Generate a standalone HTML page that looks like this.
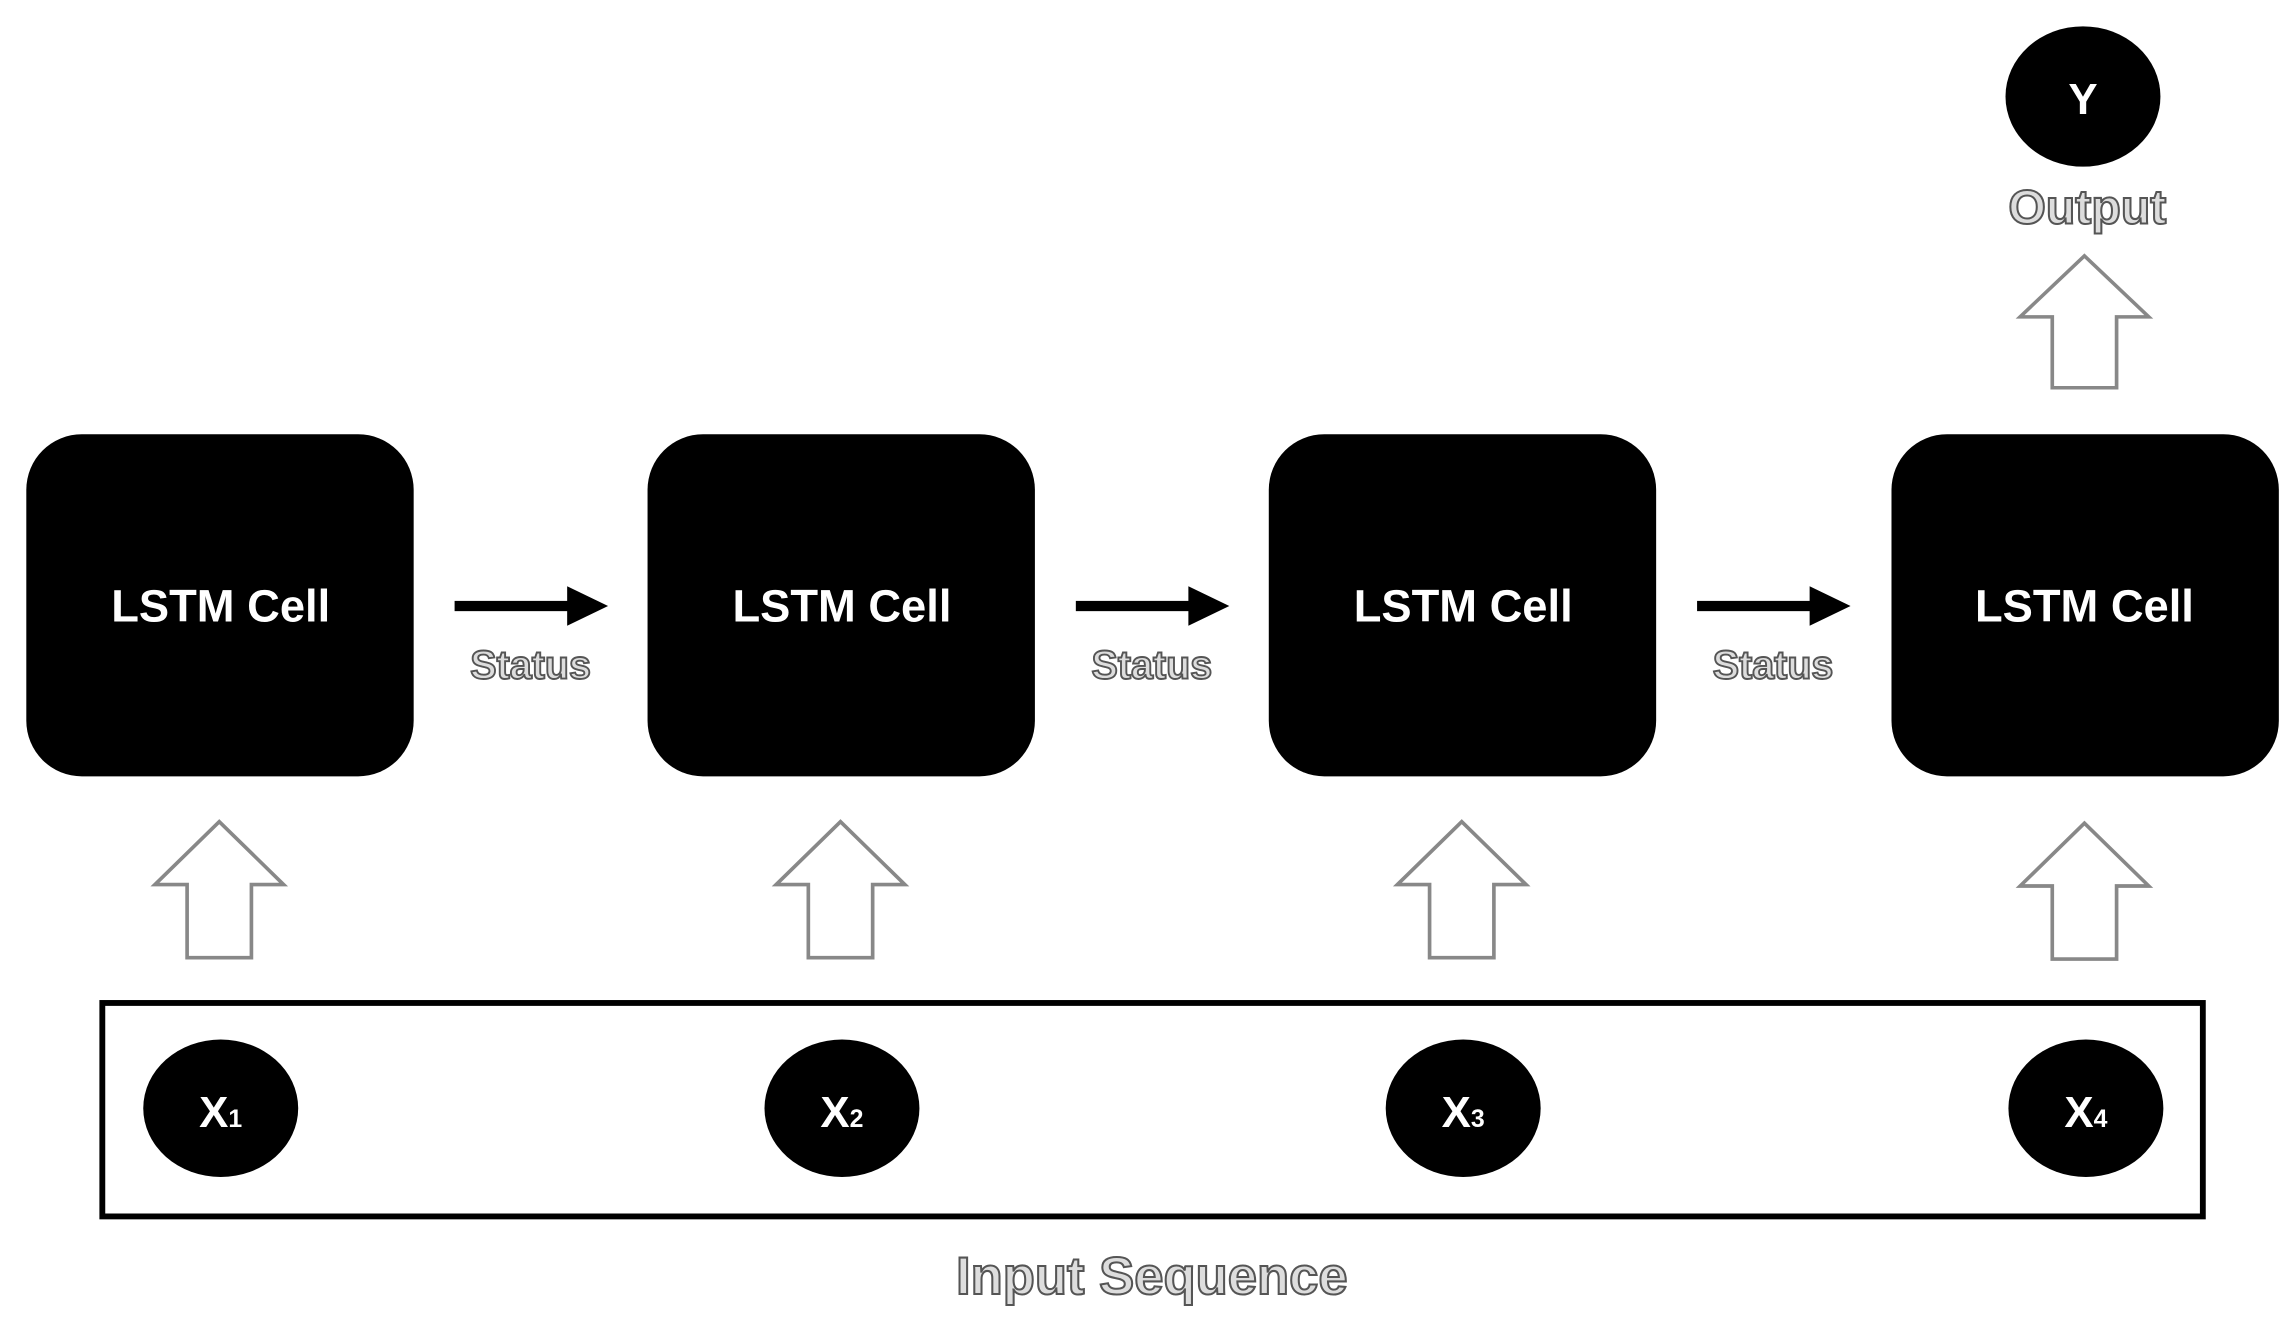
<!DOCTYPE html>
<html><head><meta charset="utf-8"><style>
html,body{margin:0;padding:0;background:#fff;}
svg{display:block;}
</style></head><body>
<svg width="2292" height="1329" viewBox="0 0 1568 909" preserveAspectRatio="none" xmlns="http://www.w3.org/2000/svg">
<defs>
<g id="up"><path d="M0,0 L44,43 L22,43 L22,93 L-22,93 L-22,43 L-44,43 Z" fill="#fff" stroke="#888" stroke-width="2.5" stroke-linejoin="miter"/></g>
<g id="rt"><rect x="311" y="411" width="82" height="7" fill="#000"/><path d="M388,401 L416,414.5 L388,428 Z" fill="#000"/></g>
</defs>
<rect width="1568" height="909" fill="#fff"/>
<g fill="#000">
<rect x="18" y="297" width="265" height="234" rx="38"/>
<rect x="443" y="297" width="265" height="234" rx="38"/>
<rect x="868" y="297" width="265" height="234" rx="38"/>
<rect x="1294" y="297" width="265" height="234" rx="38"/>
</g>
<g fill="#fff" font-family="Liberation Sans, sans-serif" font-weight="bold" font-size="31" text-anchor="middle">
<text x="151" y="425">LSTM Cell</text>
<text x="576" y="425">LSTM Cell</text>
<text x="1001" y="425">LSTM Cell</text>
<text x="1426" y="425">LSTM Cell</text>
</g>
<use href="#rt"/>
<use href="#rt" transform="translate(425,0)"/>
<use href="#rt" transform="translate(850,0)"/>
<g font-family="Liberation Sans, sans-serif" font-weight="bold" font-size="27" text-anchor="middle" fill="#ddd" stroke="#555" stroke-width="1.3">
<text x="363" y="464">Status</text>
<text x="788" y="464">Status</text>
<text x="1213" y="464">Status</text>
</g>
<use href="#up" transform="translate(150,562)"/>
<use href="#up" transform="translate(575,562)"/>
<use href="#up" transform="translate(1000,562)"/>
<use href="#up" transform="translate(1426,563)"/>
<use href="#up" transform="translate(1426,175) scale(1,0.97)"/>
<rect x="70" y="686" width="1437" height="146" fill="none" stroke="#000" stroke-width="4"/>
<g fill="#000">
<ellipse cx="151" cy="758" rx="53" ry="47"/>
<ellipse cx="576" cy="758" rx="53" ry="47"/>
<ellipse cx="1001" cy="758" rx="53" ry="47"/>
<ellipse cx="1427" cy="758" rx="53" ry="47"/>
<ellipse cx="1425" cy="66" rx="53" ry="48"/>
</g>
<g fill="#fff" font-family="Liberation Sans, sans-serif" font-weight="bold" font-size="30" text-anchor="middle">
<text x="151" y="771">X<tspan font-size="17">1</tspan></text>
<text x="576" y="771">X<tspan font-size="17">2</tspan></text>
<text x="1001" y="771">X<tspan font-size="17">3</tspan></text>
<text x="1427" y="771">X<tspan font-size="17">4</tspan></text>
<text x="1425" y="78">Y</text>
</g>
<g font-family="Liberation Sans, sans-serif" font-weight="bold" text-anchor="middle" fill="#ddd" stroke="#555" stroke-width="1.4">
<text x="1428" y="153" font-size="33">Output</text>
<text x="788" y="885" font-size="36">Input Sequence</text>
</g>
</svg>
</body></html>
